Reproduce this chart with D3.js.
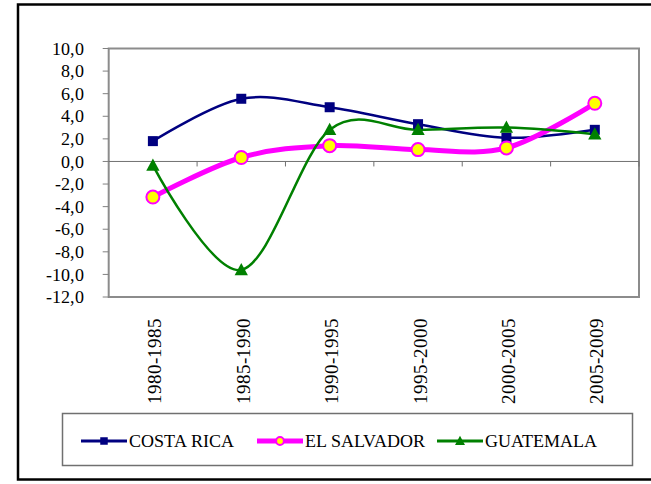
<!DOCTYPE html>
<html>
<head>
<meta charset="utf-8">
<script src="https://cdn.jsdelivr.net/npm/d3@7"></script>
<style>
    @font-face { font-family: 'RefSerif'; src: local('Liberation Serif'), local('LiberationSerif'), local('Times New Roman'); }
    body { margin: 0; background: #fff; }
    svg text { font-family: 'RefSerif', 'Liberation Serif', 'Times New Roman', serif; }
</style>
</head>
<body>
<div id="chart"></div>
<script>
var periods = ['1980-1985', '1985-1990', '1990-1995', '1995-2000', '2000-2005', '2005-2009'];
var costaRica = [1.8, 5.55, 4.8, 3.3, 2.1, 2.8];
var elSalvador = [-3.15, 0.35, 1.4, 1.05, 1.2, 5.15];
var guatemala = [-0.35, -9.6, 2.8, 2.8, 3.0, 2.4];
var yTicks = [10, 8, 6, 4, 2, 0, -2, -4, -6, -8, -10, -12];

var series = [
    { name: 'COSTA RICA', values: costaRica, color: '#000080', width: 2.5, marker: 'square' },
    { name: 'EL SALVADOR', values: elSalvador, color: '#ff00ff', width: 5, marker: 'circle' },
    { name: 'GUATEMALA', values: guatemala, color: '#008000', width: 2.5, marker: 'triangle' }
];

var FONT = "'RefSerif', 'Liberation Serif', 'Times New Roman', serif";
var W = 651, H = 484;
var plot = { left: 108.7, right: 639, top: 48.5, bottom: 297 };

var svg = d3.select('#chart').append('svg')
    .attr('width', W)
    .attr('height', H)
    .style('font-family', FONT);

// outer frame
svg.append('rect')
    .attr('x', 18)
    .attr('y', 4.5)
    .attr('width', 640)
    .attr('height', 475)
    .attr('fill', 'none')
    .attr('stroke', '#000')
    .attr('stroke-width', 2.5);

var x = d3.scaleBand()
    .domain(periods)
    .range([plot.left, plot.right]);

var y = d3.scaleLinear()
    .domain([-12, 10])
    .range([plot.bottom, plot.top]);

var cx = d => x(d) + x.bandwidth() / 2;
var fmt = d => d3.format('.1f')(d).replace('.', ',').replace('\u2212', '-');

// plot area
svg.append('rect')
    .attr('x', plot.left)
    .attr('y', plot.top)
    .attr('width', plot.right - plot.left)
    .attr('height', plot.bottom - plot.top)
    .attr('fill', '#fff')
    .attr('stroke', '#8c8c8c')
    .attr('stroke-width', 2);

// y ticks and labels
svg.selectAll('.ytick')
    .data(yTicks)
    .enter()
    .append('line')
    .attr('class', 'ytick')
    .attr('x1', plot.left - 6)
    .attr('x2', plot.left)
    .attr('y1', d => y(d))
    .attr('y2', d => y(d))
    .attr('stroke', '#808080');

svg.selectAll('.ylabel')
    .data(yTicks)
    .enter()
    .append('text')
    .attr('class', 'ylabel')
    .attr('x', 84)
    .attr('y', d => y(d))
    .attr('dy', '0.34em')
    .attr('text-anchor', 'end')
    .style('font-family', FONT)
    .style('font-size', '18px')
    .text(fmt);

// zero line with category ticks
svg.append('line')
    .attr('x1', plot.left)
    .attr('x2', plot.right)
    .attr('y1', y(0))
    .attr('y2', y(0))
    .attr('stroke', '#707070')
    .attr('stroke-width', 1);

svg.selectAll('.xtick')
    .data(periods)
    .enter()
    .append('line')
    .attr('class', 'xtick')
    .attr('x1', d => x(d) + x.step())
    .attr('x2', d => x(d) + x.step())
    .attr('y1', y(0))
    .attr('y2', y(0) + 5)
    .attr('stroke', '#707070');

// x labels (rotated)
svg.selectAll('.xlabel')
    .data(periods)
    .enter()
    .append('text')
    .attr('class', 'xlabel')
    .attr('transform', d => 'translate(' + (cx(d) + 2) + ',318) rotate(-90)')
    .attr('text-anchor', 'end')
    .attr('dy', '0.35em')
    .style('font-family', FONT)
    .style('font-size', '18.5px')
    .text(d => d);

// lines
var line = d3.line()
    .x((d, i) => cx(periods[i]))
    .y(d => y(d))
    .curve(d3.curveCardinal.tension(0));

series.forEach(s => {
    svg.append('path')
        .datum(s.values)
        .attr('d', line)
        .attr('fill', 'none')
        .attr('stroke', s.color)
        .attr('stroke-width', s.width);
});

function drawMarker(g, type, px, py, scale) {
    if (type === 'square') {
        var a = 10 * scale;
        g.append('rect')
            .attr('x', px - a / 2)
            .attr('y', py - a / 2)
            .attr('width', a)
            .attr('height', a)
            .attr('fill', '#000080');
    } else if (type === 'circle') {
        g.append('circle')
            .attr('cx', px)
            .attr('cy', py)
            .attr('r', 6.5 * scale)
            .attr('fill', '#ffff00')
            .attr('stroke', '#ff00ff')
            .attr('stroke-width', 2);
    } else {
        var s = 7 * scale;
        g.append('path')
            .attr('d', 'M' + px + ',' + (py - s) + 'L' + (px + s * 0.95) + ',' + (py + s * 0.75) +
                'L' + (px - s * 0.95) + ',' + (py + s * 0.75) + 'Z')
            .attr('fill', '#008000');
    }
}

series.forEach(s => {
    s.values.forEach((v, i) => {
        drawMarker(svg, s.marker, cx(periods[i]), y(v), 1);
    });
});

// legend
svg.append('rect')
    .attr('x', 62.5)
    .attr('y', 413.5)
    .attr('width', 570)
    .attr('height', 52)
    .attr('fill', '#fff')
    .attr('stroke', '#707070')
    .attr('stroke-width', 1.5);

var legendX = [81, 257, 437];
var ly = 441;
series.forEach((s, i) => {
    svg.append('line')
        .attr('x1', legendX[i])
        .attr('x2', legendX[i] + 46)
        .attr('y1', ly)
        .attr('y2', ly)
        .attr('stroke', s.color)
        .attr('stroke-width', s.width === 5 ? 5 : 3);
    drawMarker(svg, s.marker, legendX[i] + 23, ly, s.marker === 'circle' ? 0.6 : 0.75);
    svg.append('text')
        .attr('x', legendX[i] + 48)
        .attr('y', ly)
        .attr('dy', '0.35em')
        .style('font-family', FONT)
        .style('font-size', '18px')
        .text(s.name);
});
</script>
</body>
</html>
